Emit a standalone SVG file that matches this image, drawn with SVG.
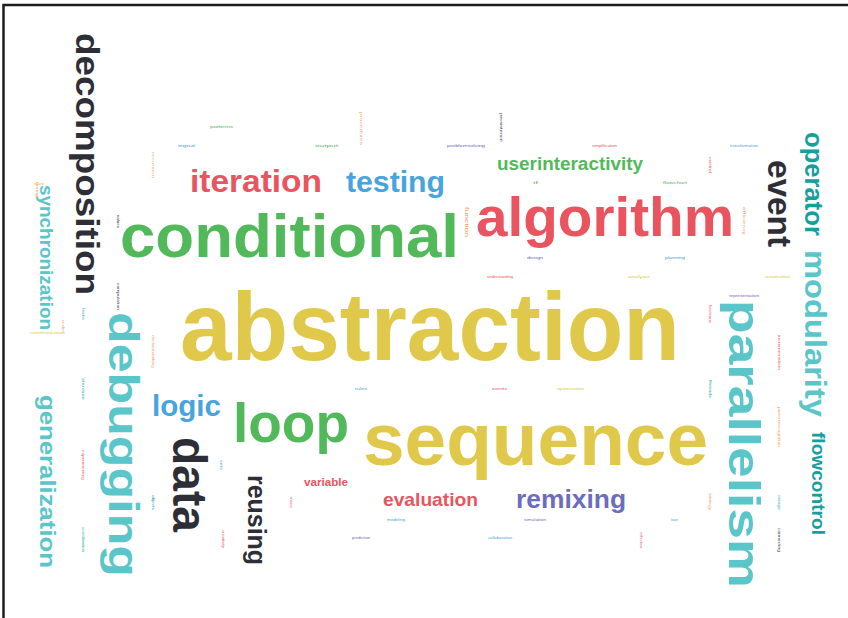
<svg xmlns="http://www.w3.org/2000/svg" width="848" height="618" viewBox="0 0 848 618">
  <style>
    text { font-family: "Liberation Sans", Arial, "Helvetica", sans-serif; }
    .w { font-weight: bold; lengthAdjust: spacingAndGlyphs; }
    .t { font-size: 3.4px; font-weight: normal; }
    .yel { fill: #E0C94A; }
    .grn { fill: #52B95A; }
    .red { fill: #E9545F; }
    .blu { fill: #48A4DD; }
    .drk { fill: #2E2E36; }
    .tel { fill: #5BC6C9; }
    .tld { fill: #16A09D; }
    .pur { fill: #6C6CC0; }
    .org { fill: #EE9A5A; }
  </style>

  <rect width="848" height="618" fill="#ffffff"/>
  <!-- frame -->
  <path d="M3.5 618 V5 H848" fill="none" stroke="#1c1c1c" stroke-width="2.5"/>

  <!-- main terms -->
  <g id="abstraction"><text class="w yel" x="180" y="360" font-size="96" textLength="500" lengthAdjust="spacingAndGlyphs">abstraction</text></g>
  <g id="sequence"><text class="w yel" x="363" y="465" font-size="74" textLength="345" lengthAdjust="spacingAndGlyphs">sequence</text></g>
  <g id="conditional"><text class="w grn" x="120" y="257" font-size="62" textLength="339" lengthAdjust="spacingAndGlyphs">conditional</text></g>
  <g id="algorithm"><text class="w red" x="476" y="236" font-size="55" textLength="258" lengthAdjust="spacingAndGlyphs">algorithm</text></g>
  <g id="iteration"><text class="w red" x="190" y="192" font-size="32" textLength="132" lengthAdjust="spacingAndGlyphs">iteration</text></g>
  <g id="testing"><text class="w blu" x="346" y="192" font-size="30" textLength="99" lengthAdjust="spacingAndGlyphs">testing</text></g>
  <g id="userinteractivity"><text class="w grn" x="497" y="170" font-size="18" textLength="146" lengthAdjust="spacingAndGlyphs">userinteractivity</text></g>
  <g id="logic"><text class="w blu" x="152" y="416" font-size="30" textLength="69" lengthAdjust="spacingAndGlyphs">logic</text></g>
  <g id="loop"><text class="w grn" x="233" y="442" font-size="55" textLength="116" lengthAdjust="spacingAndGlyphs">loop</text></g>
  <g id="variable"><text class="w red" x="304" y="486" font-size="11" textLength="44" lengthAdjust="spacingAndGlyphs">variable</text></g>
  <g id="evaluation"><text class="w red" x="383" y="506" font-size="19" textLength="95" lengthAdjust="spacingAndGlyphs">evaluation</text></g>
  <g id="remixing"><text class="w pur" x="516" y="508" font-size="25" textLength="110" lengthAdjust="spacingAndGlyphs">remixing</text></g>

  <!-- vertical terms (read top to bottom) -->
  <g id="decomposition"><text class="w drk" transform="translate(76,164) rotate(90)" text-anchor="middle" font-size="34" textLength="262" lengthAdjust="spacingAndGlyphs">decomposition</text></g>
  <g id="synchronization"><text class="w tel" transform="translate(40,257.5) rotate(90)" text-anchor="middle" font-size="18" textLength="145" lengthAdjust="spacingAndGlyphs">synchronization</text></g>
  <g id="generalization"><text class="w tel" transform="translate(40,481.5) rotate(90)" text-anchor="middle" font-size="22" textLength="173" lengthAdjust="spacingAndGlyphs">generalization</text></g>
  <g id="debugging"><text class="w tel" transform="translate(109,444.5) rotate(90)" text-anchor="middle" font-size="43" textLength="265" lengthAdjust="spacingAndGlyphs">debugging</text></g>
  <g id="data"><text class="w drk" transform="translate(173,484.5) rotate(90)" text-anchor="middle" font-size="48" textLength="95" lengthAdjust="spacingAndGlyphs">data</text></g>
  <g id="reusing"><text class="w drk" transform="translate(248,520) rotate(90)" text-anchor="middle" font-size="25" textLength="90" lengthAdjust="spacingAndGlyphs">reusing</text></g>
  <g id="event"><text class="w drk" transform="translate(768,203.5) rotate(90)" text-anchor="middle" font-size="34" textLength="87" lengthAdjust="spacingAndGlyphs">event</text></g>
  <g id="operator"><text class="w tld" transform="translate(805,184) rotate(90)" text-anchor="middle" font-size="26" textLength="104" lengthAdjust="spacingAndGlyphs">operator</text></g>
  <g id="modularity"><text class="w tel" transform="translate(805,333.5) rotate(90)" text-anchor="middle" font-size="29" textLength="167" lengthAdjust="spacingAndGlyphs">modularity</text></g>
  <g id="flowcontrol"><text class="w tld" transform="translate(812,483.5) rotate(90)" text-anchor="middle" font-size="19" textLength="103" lengthAdjust="spacingAndGlyphs">flowcontrol</text></g>
  <g id="parallelism"><text class="w tel" transform="translate(728.5,444) rotate(90)" text-anchor="middle" font-size="45" textLength="288" lengthAdjust="spacingAndGlyphs">parallelism</text></g>

  <!-- rarely used terms -->
  <g id="minor-terms">
    <text class="t grn" x="210" y="128" textLength="23" lengthAdjust="spacingAndGlyphs">patterns</text>
    <text class="t blu" x="178" y="147" textLength="17" lengthAdjust="spacingAndGlyphs">input</text>
    <text class="t grn" x="315" y="147" textLength="23" lengthAdjust="spacingAndGlyphs">output</text>
    <text class="t pur" x="447" y="147" textLength="38" lengthAdjust="spacingAndGlyphs">problemsolving</text>
    <text class="t red" x="592" y="147" textLength="25" lengthAdjust="spacingAndGlyphs">simplification</text>
    <text class="t blu" x="730" y="147" textLength="28" lengthAdjust="spacingAndGlyphs">transformation</text>
    <text class="t grn" x="533" y="184" textLength="5" lengthAdjust="spacingAndGlyphs">if</text>
    <text class="t grn" x="663" y="184" textLength="24" lengthAdjust="spacingAndGlyphs">flowchart</text>
    <text class="t pur" x="527" y="259" textLength="16" lengthAdjust="spacingAndGlyphs">design</text>
    <text class="t blu" x="665" y="259" textLength="20" lengthAdjust="spacingAndGlyphs">planning</text>
    <text class="t red" x="487" y="278" textLength="26" lengthAdjust="spacingAndGlyphs">understanding</text>
    <text class="t yel" x="628" y="278" textLength="22" lengthAdjust="spacingAndGlyphs">analysis</text>
    <text class="t yel" x="765" y="278" textLength="25" lengthAdjust="spacingAndGlyphs">automation</text>
    <text class="t pur" x="729" y="297" textLength="30" lengthAdjust="spacingAndGlyphs">representation</text>
    <text class="t blu" x="355" y="390" textLength="12" lengthAdjust="spacingAndGlyphs">rules</text>
    <text class="t red" x="492" y="390" textLength="15" lengthAdjust="spacingAndGlyphs">events</text>
    <text class="t yel" x="557" y="390" textLength="27" lengthAdjust="spacingAndGlyphs">optimization</text>
    <text class="t blu" x="387" y="521" textLength="18" lengthAdjust="spacingAndGlyphs">modeling</text>
    <text class="t pur" x="524" y="521" textLength="22" lengthAdjust="spacingAndGlyphs">simulation</text>
    <text class="t blu" x="671" y="521" textLength="7" lengthAdjust="spacingAndGlyphs">loops</text>
    <text class="t pur" x="352" y="539" textLength="18" lengthAdjust="spacingAndGlyphs">prediction</text>
    <text class="t blu" x="488" y="539" textLength="24" lengthAdjust="spacingAndGlyphs">collaboration</text>
    <text class="t yel" x="30" y="334" textLength="35" lengthAdjust="spacingAndGlyphs">communication</text>
    <text class="t yel" x="34" y="185" textLength="10" lengthAdjust="spacingAndGlyphs">state</text>

    <text class="t org" transform="translate(152,152) rotate(90)" textLength="26" lengthAdjust="spacingAndGlyphs">recursion</text>
    <text class="t org" transform="translate(360,112) rotate(90)" textLength="33" lengthAdjust="spacingAndGlyphs">procedures</text>
    <text class="t drk" transform="translate(500,113) rotate(90)" textLength="29" lengthAdjust="spacingAndGlyphs">persistence</text>
    <text class="t drk" transform="translate(117,215) rotate(90)" textLength="13" lengthAdjust="spacingAndGlyphs">values</text>
    <text class="org" font-size="5.5" transform="translate(465,207) rotate(90)" textLength="30" lengthAdjust="spacingAndGlyphs">function</text>
    <text class="t red" transform="translate(709,157) rotate(90)" textLength="16" lengthAdjust="spacingAndGlyphs">control</text>
    <text class="t org" transform="translate(743,207) rotate(90)" textLength="28" lengthAdjust="spacingAndGlyphs">efficiency</text>
    <text class="t org" transform="translate(36,182) rotate(90)" textLength="15" lengthAdjust="spacingAndGlyphs">timing</text>
    <text class="t drk" transform="translate(117,283) rotate(90)" textLength="27" lengthAdjust="spacingAndGlyphs">computation</text>
    <text class="t blu" transform="translate(82,308) rotate(90)" textLength="12" lengthAdjust="spacingAndGlyphs">lists</text>
    <text class="t org" transform="translate(152,335) rotate(90)" textLength="33" lengthAdjust="spacingAndGlyphs">decisionmaking</text>
    <text class="t tld" transform="translate(82,378) rotate(90)" textLength="22" lengthAdjust="spacingAndGlyphs">structure</text>
    <text class="t red" transform="translate(82,450) rotate(90)" textLength="30" lengthAdjust="spacingAndGlyphs">experimenting</text>
    <text class="t tld" transform="translate(152,495) rotate(90)" textLength="15" lengthAdjust="spacingAndGlyphs">objects</text>
    <text class="t tld" transform="translate(82,527) rotate(90)" textLength="25" lengthAdjust="spacingAndGlyphs">coordination</text>
    <text class="t blu" transform="translate(220,460) rotate(90)" textLength="10" lengthAdjust="spacingAndGlyphs">sets</text>
    <text class="t red" transform="translate(290,497) rotate(90)" textLength="11" lengthAdjust="spacingAndGlyphs">trace</text>
    <text class="t red" transform="translate(222,530) rotate(90)" textLength="18" lengthAdjust="spacingAndGlyphs">creativity</text>
    <text class="t red" transform="translate(640,532) rotate(90)" textLength="16" lengthAdjust="spacingAndGlyphs">reflection</text>
    <text class="t drk" transform="translate(778,528) rotate(90)" textLength="24" lengthAdjust="spacingAndGlyphs">connecting</text>
    <text class="t red" transform="translate(709,305) rotate(90)" textLength="18" lengthAdjust="spacingAndGlyphs">booleans</text>
    <text class="t tld" transform="translate(709,380) rotate(90)" textLength="18" lengthAdjust="spacingAndGlyphs">threads</text>
    <text class="t org" transform="translate(709,493) rotate(90)" textLength="17" lengthAdjust="spacingAndGlyphs">strategy</text>
    <text class="t red" transform="translate(778,335) rotate(90)" textLength="35" lengthAdjust="spacingAndGlyphs">incrementalism</text>
    <text class="t org" transform="translate(778,407) rotate(90)" textLength="40" lengthAdjust="spacingAndGlyphs">patternrecognition</text>
    <text class="t tld" transform="translate(778,495) rotate(90)" textLength="15" lengthAdjust="spacingAndGlyphs">messages</text>
    <text class="t org" transform="translate(62,320) rotate(90)" textLength="13" lengthAdjust="spacingAndGlyphs">order</text>
  </g>
</svg>
